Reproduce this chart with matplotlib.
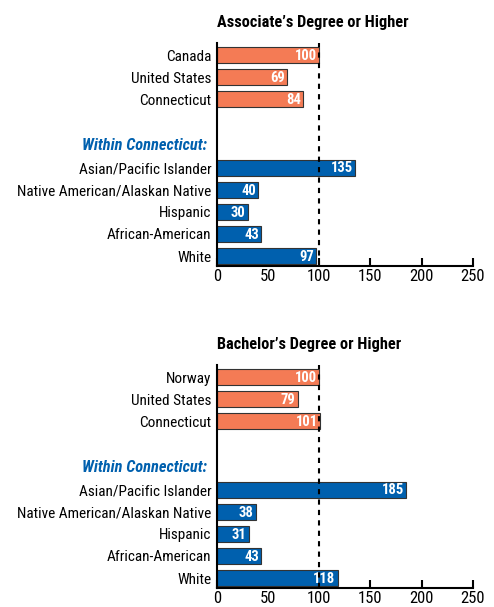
import matplotlib.pyplot as plt
from matplotlib import font_manager

names = {f.name for f in font_manager.fontManager.ttflist}
prefs = ["Liberation Sans Narrow", "Roboto Condensed", "Arimo Narrow",
         "Open Sans Condensed", "Asap Condensed", "Barlow Semi Condensed", "Liberation Sans"]
font = next(n for n in prefs if n in names)
plt.rcParams["font.family"] = [font, "DejaVu Sans"]

orange = "#F47B55"
blue = "#0060AE"

groups = ["Asian/Pacific Islander", "Native American/Alaskan Native",
          "Hispanic", "African-American", "White"]

assoc_places = ["Canada", "United States", "Connecticut"]
assoc_place_vals = [100, 69, 84]
assoc_group_vals = [135, 40, 30, 43, 97]

bach_places = ["Norway", "United States", "Connecticut"]
bach_place_vals = [100, 79, 101]
bach_group_vals = [185, 38, 31, 43, 118]

heading = "Within Connecticut:"
xticks = [0, 50, 100, 150, 200, 250]

fig = plt.figure(figsize=(4.94, 6.07), dpi=100)


def panel(rect, title, places, place_vals, group_vals):
    ax = fig.add_axes(rect)
    place_pos = [0, 1, 2]
    head_pos = 4
    group_pos = [5.08, 6.08, 7.08, 8.08, 9.08]
    h = 0.72
    ax.barh(place_pos, place_vals, height=h, color=orange,
            edgecolor="#333333", linewidth=0.8, zorder=2)
    ax.barh(group_pos, group_vals, height=h, color=blue,
            edgecolor="#333333", linewidth=0.8, zorder=2)
    for p, v in zip(place_pos + group_pos, place_vals + group_vals):
        ax.text(v - 2, p + 0.04, str(v), ha="right", va="center",
                color="white", fontweight="bold", fontsize=10.5, zorder=3)
    ax.axvline(100, color="black", linestyle=(0, (2.5, 2.5)), lw=1.5, zorder=4)
    ax.set_xlim(0, 250)
    ax.set_ylim(9.53, -0.54)
    ax.set_yticks(place_pos + [head_pos] + group_pos)
    ax.set_yticklabels(places + [heading] + groups, fontsize=11)
    lab = ax.get_yticklabels()[3]
    lab.set_color(blue)
    lab.set_fontweight("bold")
    lab.set_fontstyle("italic")
    lab.set_fontsize(11.8)
    lab.set_x(-0.015)
    ax.tick_params(axis="y", length=0, pad=4)
    ax.set_xticks(xticks)
    ax.tick_params(axis="x", direction="in", length=6, width=1.5,
                   labelsize=12, pad=2)
    for s in ["top", "right"]:
        ax.spines[s].set_visible(False)
    for s in ["left", "bottom"]:
        ax.spines[s].set_linewidth(1.5)
    ax.set_title(title, loc="left", fontweight="bold", fontsize=11.7, pad=12)
    return ax


panel([0.439, 0.5618, 0.518, 0.367], "Associate\u2019s Degree or Higher",
      assoc_places, assoc_place_vals, assoc_group_vals)
panel([0.439, 0.0313, 0.518, 0.367], "Bachelor\u2019s Degree or Higher",
      bach_places, bach_place_vals, bach_group_vals)

fig.savefig("out.png", dpi=100)
